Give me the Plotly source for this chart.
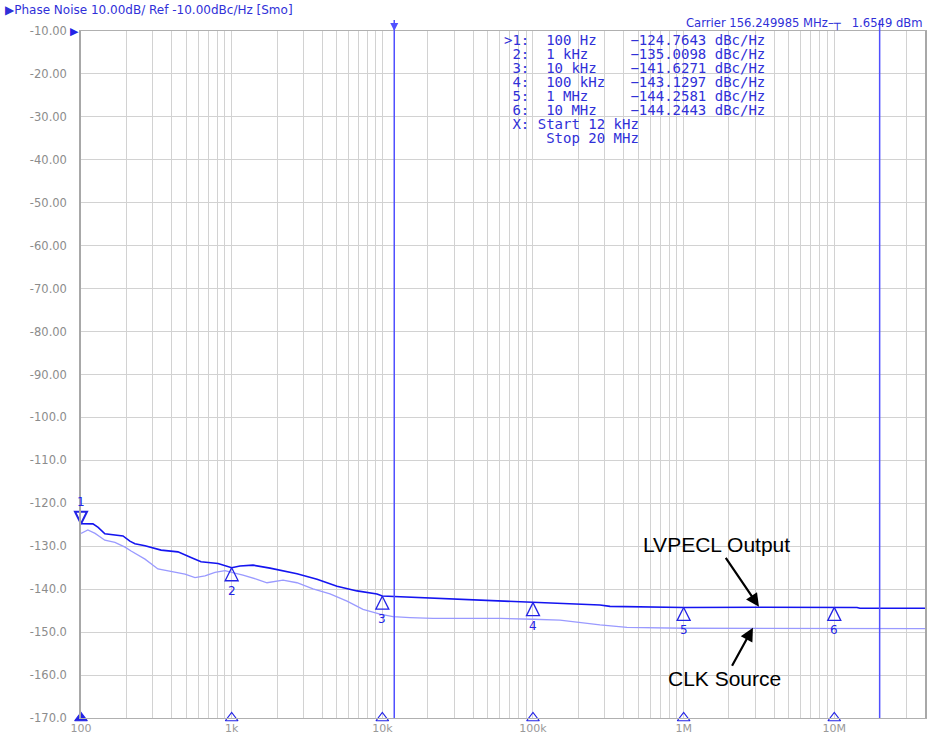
import math
import plotly.graph_objects as go

# ---------------- data ----------------
lvpecl_freq = [100, 120, 130, 144, 190, 211, 228, 266, 340, 440, 537, 626, 812, 1000,
               1136, 1386, 1797, 2714, 3686, 5003, 6792, 9221, 10000, 11770, 15270, 21700,
               36500, 60400, 100000, 151000, 278500, 324600, 1e6, 3.2e6, 1e7, 14.15e6,
               14.8e6, 4e7]
lvpecl_dbc = [-124.76, -124.8, -125.6, -127.1, -127.6, -128.8, -129.4, -129.9, -130.9,
              -131.3, -132.6, -133.6, -134.0, -135.01, -134.6, -134.4, -135.1, -136.4,
              -137.7, -139.3, -140.4, -141.1, -141.6, -141.7, -141.9, -142.1, -142.5,
              -142.7, -143.13, -143.4, -143.7, -144.0, -144.26, -144.2, -144.24, -144.25,
              -144.45, -144.45]

clk_freq = [100, 111, 124, 144, 168, 196, 215, 266, 324, 378, 490, 571, 665, 775, 903,
            1000, 1189, 1473, 1716, 2192, 2714, 3467, 4495, 5831, 7443, 9652, 11770,
            15270, 21700, 36500, 60400, 100000, 151000, 278500, 420900, 1e6, 4e7]
clk_dbc = [-127.0, -126.2, -127.0, -128.6, -129.1, -130.2, -131.1, -133.0, -135.3,
           -135.7, -136.5, -137.3, -136.9, -136.1, -135.7, -136.1, -136.7, -137.7,
           -138.5, -137.9, -138.5, -139.9, -141.1, -142.8, -144.7, -145.8, -146.4,
           -146.6, -146.8, -146.8, -146.8, -147.0, -147.2, -148.3, -148.9, -149.1,
           -149.2]

marker_ids = ["1", "2", "3", "4", "5", "6"]
marker_freq = [100, 1e3, 1e4, 1e5, 1e6, 1e7]
marker_freq_text = ["100 Hz", "1 kHz", "10 kHz", "100 kHz", "1 MHz", "10 MHz"]
marker_dbc = [-124.7643, -135.0098, -141.6271, -143.1297, -144.2581, -144.2443]

integ_start = 12e3
integ_stop = 20e6

y_ticks = list(range(-10, -171, -10))
x_decades = [100, 1e3, 1e4, 1e5, 1e6, 1e7]
x_decade_labels = ["100", "1k", "10k", "100k", "1M", "10M"]
x_max = 4e7

header_text = "▶Phase Noise 10.00dB/ Ref -10.00dBc/Hz [Smo]"
carrier_text = "Carrier 156.249985 MHz–┬   1.6549 dBm"

# ---------------- styling ----------------
BLUE = "#2323e6"
DARK = "#1414f0"
LIGHT = "#9a9aff"
VLINE = "#5050ff"
GRID = "#d2d2d2"
TXT = "#3030d8"

W, H = 927, 734
ML, MR, MT, MB = 81, 2, 31, 16
PW, PH = W - ML - MR, H - MT - MB


def px_x(px):
    return (px - ML) / PW


def px_y(py):
    return (H - MB - py) / PH


fig = go.Figure()

fig.add_trace(go.Scatter(x=clk_freq, y=clk_dbc, mode="lines",
                         line=dict(color=LIGHT, width=1.3), hoverinfo="skip"))
fig.add_trace(go.Scatter(x=lvpecl_freq, y=lvpecl_dbc, mode="lines",
                         line=dict(color=DARK, width=1.6), hoverinfo="skip"))

# marker triangles on the trace
fig.add_trace(go.Scatter(x=marker_freq[1:], y=marker_dbc[1:], mode="markers",
                         marker=dict(symbol="arrow-up-open", size=13, color=BLUE,
                                     line=dict(color=BLUE, width=1.3)),
                         cliponaxis=False, hoverinfo="skip"))
fig.add_trace(go.Scatter(x=marker_freq[:1], y=marker_dbc[:1], mode="markers",
                         marker=dict(symbol="arrow-down-open", size=12, color=BLUE,
                                     line=dict(color=BLUE, width=2)),
                         cliponaxis=False, hoverinfo="skip"))

# marker triangles on the frequency axis
fig.add_trace(go.Scatter(x=marker_freq, y=[y_ticks[-1]] * len(marker_freq), mode="markers",
                         marker=dict(symbol=["triangle-up"] + ["triangle-up-open"] * (len(marker_freq) - 1),
                                     size=11, color=BLUE, line=dict(color=BLUE, width=1.2)),
                         cliponaxis=False, hoverinfo="skip"))

# small marker at top of integration start line
fig.add_trace(go.Scatter(x=[integ_start], y=[y_ticks[0]], mode="markers",
                         marker=dict(symbol="arrow-down", size=8, color=VLINE),
                         cliponaxis=False, hoverinfo="skip"))

# integration range lines
for f in (integ_start, integ_stop):
    fig.add_shape(type="line", xref="x", yref="paper", x0=f, x1=f, y0=0, y1=1.016,
                  line=dict(color=VLINE, width=1.5), layer="above")

annotations = []
# marker numbers
for i, (mid, f, v) in enumerate(zip(marker_ids, marker_freq, marker_dbc)):
    annotations.append(dict(x=math.log10(f), y=v, xref="x", yref="y", text=mid,
                            showarrow=False, yshift=22 if i == 0 else -23,
                            font=dict(family="DejaVu Sans", size=12, color=BLUE)))

# header texts
annotations.append(dict(x=px_x(3), y=px_y(10), xref="paper", yref="paper", text=header_text,
                        showarrow=False, xanchor="left", yanchor="middle",
                        font=dict(family="DejaVu Sans", size=12, color=TXT)))
annotations.append(dict(x=1, y=px_y(24), xref="paper", yref="paper", text=carrier_text,
                        showarrow=False, xanchor="right", yanchor="middle",
                        font=dict(family="DejaVu Sans", size=11.6, color=TXT)))
annotations.append(dict(x=0, y=y_ticks[0], xref="paper", yref="y", text="▶",
                        showarrow=False, xanchor="right", yanchor="middle",
                        font=dict(family="DejaVu Sans", size=11, color=BLUE)))

# marker table: a single monospaced block, 14 px line pitch
rows = []
for i, (mid, ft, v) in enumerate(zip(marker_ids, marker_freq_text, marker_dbc)):
    lab = (">" if i == 0 else "") + mid + ":"
    rows.append("%3s  %-10s\u2212%.4f dBc/Hz" % (lab, ft, abs(v)))
rows.append(" X: Start %g kHz" % (integ_start / 1e3))
rows.append("     Stop %g MHz" % (integ_stop / 1e6))
table_html = "<br>".join('<span style="font-size:14px">%s</span>' % r.replace(" ", "\u00a0")
                         for r in rows)
annotations.append(dict(x=px_x(503), y=px_y(31), xref="paper", yref="paper", text=table_html,
                        showarrow=False, xanchor="left", yanchor="top", align="left",
                        borderpad=0,
                        font=dict(family="DejaVu Sans Mono", size=14 / 1.3, color=TXT)))

# callouts
callfont = dict(family="Liberation Sans, Arial", size=21, color="black")
annotations.append(dict(x=6.5, y=-144.1, xref="x", yref="y", text="LVPECL Output",
                        showarrow=True, ax=-42, ay=-62, arrowhead=2, arrowsize=1.2,
                        arrowwidth=2.2, arrowcolor="black", font=callfont))
annotations.append(dict(x=6.46, y=-149.0, xref="x", yref="y", text="CLK Source",
                        showarrow=True, ax=-28, ay=51, arrowhead=2, arrowsize=1.2,
                        arrowwidth=2.2, arrowcolor="black", font=callfont))

# gridlines at 1..9 x each decade
grid_vals = []
grid_text = []
for e in range(2, 8):
    for m in range(1, 10):
        v = m * 10 ** e
        if v <= x_max:
            grid_vals.append(v)
            grid_text.append(x_decade_labels[x_decades.index(v)] if v in x_decades else "")

y_text = [("%.2f" % v) if v > -100 else ("%.1f" % v) for v in y_ticks]

fig.update_layout(
    width=W, height=H,
    margin=dict(l=ML, r=MR, t=MT, b=MB, autoexpand=False),
    paper_bgcolor="white", plot_bgcolor="white",
    showlegend=False,
    annotations=annotations,
    xaxis=dict(type="log", range=[2, math.log10(x_max)], tickvals=grid_vals, ticktext=grid_text,
               showgrid=True, gridcolor=GRID, gridwidth=1, zeroline=False, automargin=False,
               showline=True, linecolor="#b0b0b0", linewidth=1, mirror=True,
               ticks="", ticklabelstandoff=0,
               tickfont=dict(family="DejaVu Sans", size=11, color="#999999")),
    yaxis=dict(range=[y_ticks[-1], y_ticks[0]], tickvals=y_ticks, ticktext=y_text,
               showgrid=True, gridcolor=GRID, gridwidth=1, zeroline=False, automargin=False,
               showline=True, linecolor="#a8a8a8", linewidth=1.5, mirror=True,
               ticks="", ticklabelstandoff=10,
               tickfont=dict(family="DejaVu Sans", size=11.5, color="#8c8c8c")),
)

fig.write_html("out.html", config={"displayModeBar": False},
               post_script="document.body.style.margin='0px';document.body.style.overflow='hidden';")
